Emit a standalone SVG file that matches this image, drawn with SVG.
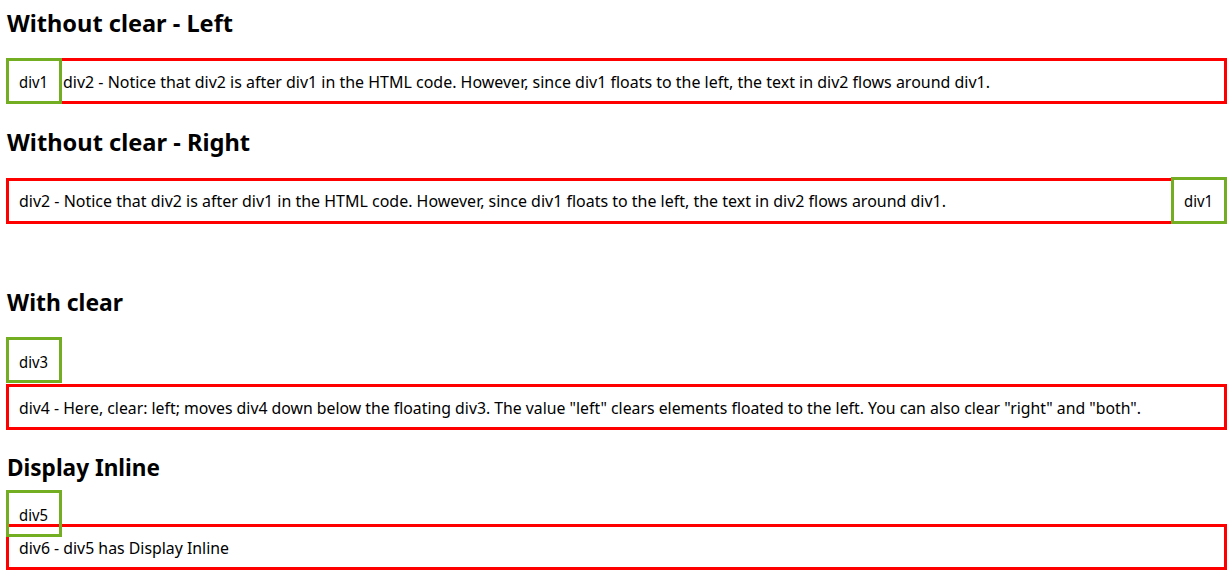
<svg xmlns="http://www.w3.org/2000/svg" width="1232" height="583" viewBox="0 0 1232 583">
<style>
.h{font-family:"Noto Sans","Open Sans",sans-serif;font-weight:bold;font-size:23px;fill:#000}
.t{font-family:"Noto Sans","Open Sans",sans-serif;font-size:16px;fill:#000}
.red{fill:none;stroke:#ff0000;stroke-width:3}
.grn{fill:#fff;stroke:#73ad21;stroke-width:3}
.grn2{fill:none;stroke:#73ad21;stroke-width:3}
</style>
<rect width="1232" height="583" fill="#fff"/>
<g id="heading-left"><text class="h" x="7" y="32" textLength="226" lengthAdjust="spacingAndGlyphs">Without clear - Left</text></g>
<g id="div2-left">
<rect class="red" x="7.5" y="59.5" width="1218" height="43"/>
<text class="t" x="63" y="88" textLength="927" lengthAdjust="spacingAndGlyphs">div2 - Notice that div2 is after div1 in the HTML code. However, since div1 floats to the left, the text in div2 flows around div1.</text>
</g>
<g id="div1-left">
<rect class="grn" x="7.5" y="59.5" width="53" height="43"/>
<text class="t" x="19" y="88" textLength="29" lengthAdjust="spacingAndGlyphs">div1</text>
</g>
<g id="heading-right"><text class="h" x="7" y="151" textLength="243" lengthAdjust="spacingAndGlyphs">Without clear - Right</text></g>
<g id="div2-right">
<rect class="red" x="7.5" y="179.5" width="1165" height="43"/>
<text class="t" x="19" y="207" textLength="927" lengthAdjust="spacingAndGlyphs">div2 - Notice that div2 is after div1 in the HTML code. However, since div1 floats to the left, the text in div2 flows around div1.</text>
</g>
<g id="div1-right">
<rect class="grn" x="1172.5" y="178.5" width="53" height="44"/>
<text class="t" x="1184" y="207" textLength="29" lengthAdjust="spacingAndGlyphs">div1</text>
</g>
<g id="heading-clear"><text class="h" x="7" y="311" textLength="116" lengthAdjust="spacingAndGlyphs">With clear</text></g>
<g id="div3">
<rect class="grn" x="7.5" y="338.5" width="53" height="43"/>
<text class="t" x="19" y="368" textLength="29" lengthAdjust="spacingAndGlyphs">div3</text>
</g>
<g id="div4">
<rect class="red" x="7.5" y="385.5" width="1218" height="43"/>
<text class="t" x="19" y="414" textLength="1122" lengthAdjust="spacingAndGlyphs">div4 - Here, clear: left; moves div4 down below the floating div3. The value "left" clears elements floated to the left. You can also clear "right" and "both".</text>
</g>
<g id="heading-inline"><text class="h" x="7" y="476" textLength="153" lengthAdjust="spacingAndGlyphs">Display Inline</text></g>
<g id="div6">
<rect class="red" x="7.5" y="525.5" width="1218" height="43"/>
<text class="t" x="19" y="554" textLength="210" lengthAdjust="spacingAndGlyphs">div6 - div5 has Display Inline</text>
</g>
<g id="div5">
<rect class="grn2" x="7.5" y="491.5" width="53" height="44"/>
<text class="t" x="19" y="521" textLength="29" lengthAdjust="spacingAndGlyphs">div5</text>
</g>
</svg>
